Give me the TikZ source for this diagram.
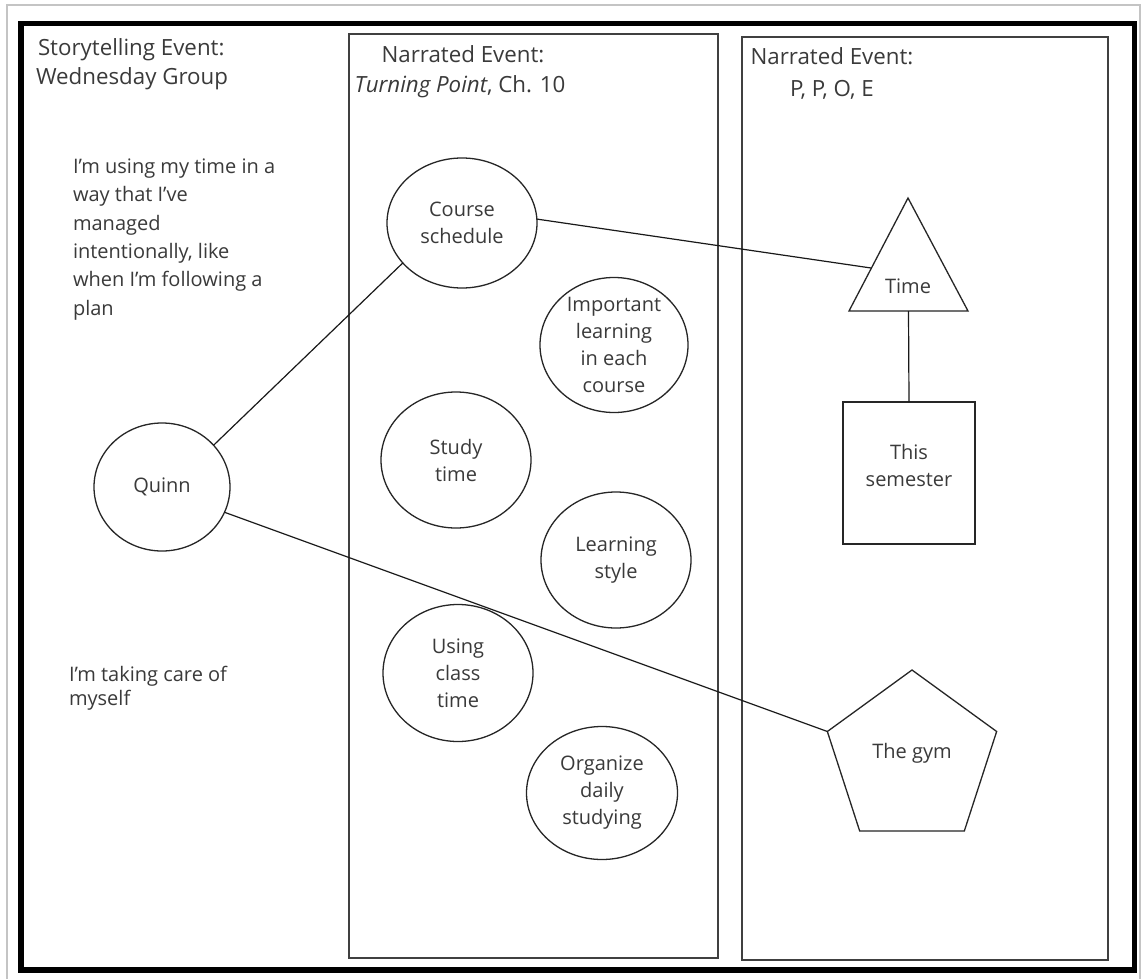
\documentclass[tikz,border=0pt]{standalone}
\usepackage{fontspec}
\setmainfont{Open Sans}
\usetikzlibrary{shapes.geometric,calc}
\definecolor{ink}{HTML}{3A3A3A}
\definecolor{framegray}{HTML}{C4C4C4}
\begin{document}
\begin{tikzpicture}[x=1pt,y=-1pt,
  body/.style={font=\fontsize{20}{28}\selectfont, text=ink, inner sep=0, outer sep=0},
  ttl/.style={font=\fontsize{22.3}{30}\selectfont, text=ink, inner sep=0, outer sep=0},
  bubble/.style={ellipse, draw=black!85, line width=1.3pt, inner sep=0, outer sep=0},
  lbl/.style={font=\fontsize{20}{27}\selectfont, text=ink, align=center, inner sep=0},
  panel/.style={draw=black!75, line width=1.5pt},
  shapeline/.style={draw=black!85, line width=1.3pt},
  link/.style={draw=black!90, line width=1.2pt}]

\useasboundingbox (0,0) rectangle (1143,979);
\fill[white] (0,0) rectangle (1143,979);
% outer frames
\draw[framegray, line width=2.5pt] (7,979) -- (7,5) -- (1140,5) -- (1140,979);
\draw[line width=5.5pt] (21,23.5) rectangle (1134.5,970);
% panels
\draw[panel] (349,34) rectangle (718,958);
\draw[panel] (742,37) rectangle (1108,960);

% titles
\node[ttl, anchor=base west] (t1a) at (38,56) {Storytelling Event:};
\node[ttl, anchor=base west] (t1b) at (36,85) {Wednesday Group};
\node[ttl, anchor=base] (t2a) at (463,63) {Narrated Event:};
\node[ttl, anchor=base] (t2b) at (460,93) {\textit{Turning Point}, Ch. 10};
\node[ttl, anchor=base] (t3a) at (832,65) {Narrated Event:};
\node[ttl, anchor=base] (t3b) at (832,97) {P, P, O, E};

% left text
\node[body, anchor=base west] (p1) at (73,173.3) {I'm using my time in a};
\node[body, anchor=base west] (p2) at (73,201.7) {way that I've};
\node[body, anchor=base west] (p3) at (73,230) {managed};
\node[body, anchor=base west] (p4) at (73,258.3) {intentionally, like};
\node[body, anchor=base west] (p5) at (73,286.7) {when I'm following a};
\node[body, anchor=base west] (p6) at (73,315) {plan};
\node[body, anchor=base west] (q1) at (69,681) {I'm taking care of};
\node[body, anchor=base west] (q2) at (69,705) {myself};

% bubbles
\node[bubble, minimum width=136, minimum height=128, label={[lbl]center:Quinn}] (quinn) at (162,487) {};
\node[bubble, minimum width=150, minimum height=130, label={[lbl]center:Course\\schedule}] (cs) at (462,223) {};
\node[bubble, minimum width=148, minimum height=135, label={[lbl]center:Important\\learning\\in each\\course}] (imp) at (614,345) {};
\node[bubble, minimum width=150, minimum height=136, label={[lbl]center:Study\\time}] (study) at (456,460) {};
\node[bubble, minimum width=150, minimum height=136, label={[lbl]center:Learning\\style}] (lstyle) at (616,560) {};
\node[bubble, minimum width=150, minimum height=137, label={[lbl]center:Using\\class\\time}] (using) at (458,673) {};
\node[bubble, minimum width=151, minimum height=133, label={[lbl]center:Organize\\daily\\studying}] (org) at (602,793) {};

% triangle
\coordinate (tapex) at (908,198);
\coordinate (tbl) at (849,311);
\coordinate (tbr) at (968,311);
\draw[shapeline, line join=miter] (tapex) -- (tbl) -- (tbr) -- cycle;
\node[body] (time) at (908,286) {Time};
\coordinate (tedge) at ($(tbl)!0.38!(tapex)$);
\coordinate (tbase) at ($(tbl)!0.5!(tbr)$);

% square
\node[shapeline, rectangle, minimum width=132, minimum height=142, inner sep=0, outer sep=0,
  label={[lbl, yshift=8]center:This\\semester}] (sem) at (909,473) {};

% pentagon
\node[shapeline, regular polygon, regular polygon sides=5, minimum size=178, inner sep=0, outer sep=0,
  label={[lbl, yshift=6]center:The gym}] (gym) at (912,759) {};

% connectors
\draw[link] (quinn.39) -- (cs.214);
\draw[link] (cs.3) -- (tedge);
\draw[link] (tbase) -- (sem.north);
\draw[link] (quinn.-22) -- (gym.corner 2);
\end{tikzpicture}
\end{document}
